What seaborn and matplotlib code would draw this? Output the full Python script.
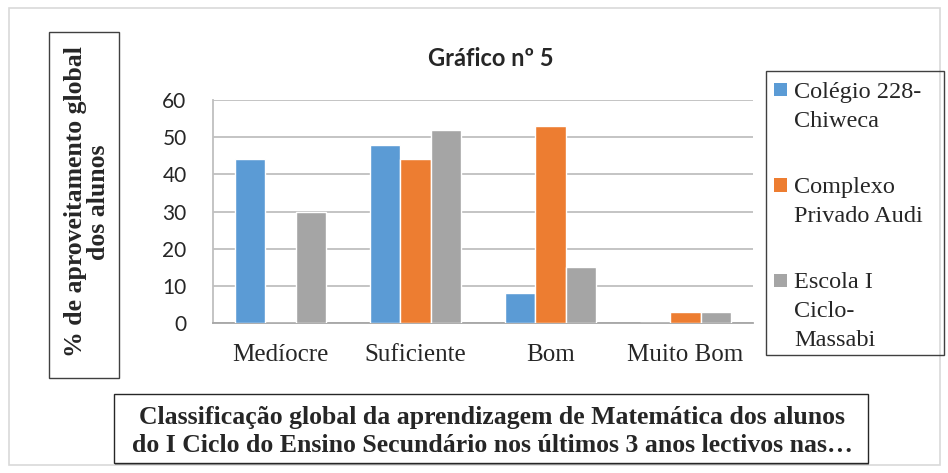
import matplotlib
matplotlib.use("Agg")
import matplotlib.pyplot as plt
import matplotlib.patches as mpatches
import seaborn as sns
import pandas as pd

categories = ["Medíocre", "Suficiente", "Bom", "Muito Bom"]
schools = ["Colégio 228-\nChiweca", "Complexo\nPrivado Audi", "Escola I\nCiclo-\nMassabi"]
colegio = [44, 48, 8, 0]
complexo = [0, 44, 53, 3]
escola = [30, 52, 15, 3]
y_ticks = [0, 10, 20, 30, 40, 50, 60]
colors = ["#5B9BD5", "#ED7D31", "#A5A5A5"]
title = "Gráfico nº 5"
y_label = "% de aproveitamento global\ndos alunos"
x_title = ("Classificação global da aprendizagem de Matemática dos alunos\n"
           "do I Ciclo do Ensino Secundário nos últimos 3 anos lectivos nas…")

rows = []
for s, vals in zip(schools, [colegio, complexo, escola]):
    for c, v in zip(categories, vals):
        rows.append({"cat": c, "school": s, "val": v})
df = pd.DataFrame(rows)

sns.set_style("white")
W, H = 948, 473
fig = plt.figure(figsize=(W / 100, H / 100), dpi=100)


def fx(px):
    return px / W


def fy(py):
    return 1 - py / H


ax = fig.add_axes([fx(213), fy(323), fx(753) - fx(213), fy(100) - fy(323)])
sns.barplot(data=df, x="cat", y="val", hue="school", order=categories,
            hue_order=schools, palette=colors, width=0.667, gap=0,
            saturation=1, legend=False, ax=ax, zorder=3)
ax.set_ylim(0, 60)
ax.set_yticks(y_ticks)
ax.set_xlim(-0.5, 3.5)
ax.yaxis.grid(True, color="#BFBFBF", linewidth=1.3, zorder=0)
ax.set_axisbelow(True)
for sp in ["top", "right"]:
    ax.spines[sp].set_visible(False)
ax.spines["left"].set_color("#BFBFBF")
ax.spines["left"].set_linewidth(1.3)
ax.spines["bottom"].set_color("#A6A6A6")
ax.spines["bottom"].set_linewidth(1.3)
ax.set_xlabel("")
ax.set_ylabel("")
ax.tick_params(axis="both", length=0)
ax.tick_params(axis="y", pad=19)
ax.tick_params(axis="x", pad=15)
for t in ax.get_yticklabels():
    t.set_fontfamily("Lato")
    t.set_fontsize(15)
for t in ax.get_xticklabels():
    t.set_fontfamily("Liberation Serif")
    t.set_fontsize(18)

# chart title
fig.text(fx(491), fy(58), title, ha="center", va="center",
         fontfamily="Lato", fontweight="bold", fontsize=17)

# outer border
fig.patches.append(mpatches.Rectangle((fx(9), fy(465)), fx(940) - fx(9), fy(8) - fy(465),
                                      transform=fig.transFigure, fill=False,
                                      edgecolor="#D9D9D9", linewidth=1.2))

# y label box
fig.patches.append(mpatches.Rectangle((fx(49), fy(378)), fx(119) - fx(49), fy(32) - fy(378),
                                      transform=fig.transFigure, fill=False,
                                      edgecolor="#404040", linewidth=1.0))
fig.text(fx(87), fy(202), y_label, rotation=90, ha="center", va="center",
         fontfamily="Liberation Serif", fontweight="bold", fontsize=18.5,
         linespacing=0.95, multialignment="center")

# bottom title box (with a slight shadow)
fig.patches.append(mpatches.Rectangle((fx(115), fy(465)), fx(869) - fx(115), fy(396) - fy(465),
                                      transform=fig.transFigure, fill=True, facecolor="#A0A0A0",
                                      edgecolor="none"))
fig.patches.append(mpatches.Rectangle((fx(114), fy(463)), fx(868) - fx(114), fy(394) - fy(463),
                                      transform=fig.transFigure, fill=True, facecolor="white",
                                      edgecolor="#262626", linewidth=1.0))
for i, line in enumerate(x_title.split("\n")):
    fig.text(fx(492), fy(424 + 28 * i), line, ha="center", va="baseline",
             fontfamily="Liberation Serif", fontweight="bold", fontsize=18.5)

# legend
fig.patches.append(mpatches.Rectangle((fx(766), fy(355)), fx(944) - fx(766), fy(71) - fy(355),
                                      transform=fig.transFigure, fill=False,
                                      edgecolor="#404040", linewidth=1.0))
entry_top = [90, 185, 280]
for lab, col, y0 in zip(schools, colors, entry_top):
    fig.patches.append(mpatches.Rectangle((fx(774), fy(y0 + 6.5)), fx(787) - fx(774),
                                          fy(y0 - 6.5) - fy(y0 + 6.5),
                                          transform=fig.transFigure, facecolor=col,
                                          edgecolor="none"))
    for i, line in enumerate(lab.split("\n")):
        fig.text(fx(794), fy(y0 + 29 * i), line, ha="left", va="center_baseline",
                 fontfamily="Liberation Serif", fontsize=17.5)

fig.savefig("out.png", dpi=100)
